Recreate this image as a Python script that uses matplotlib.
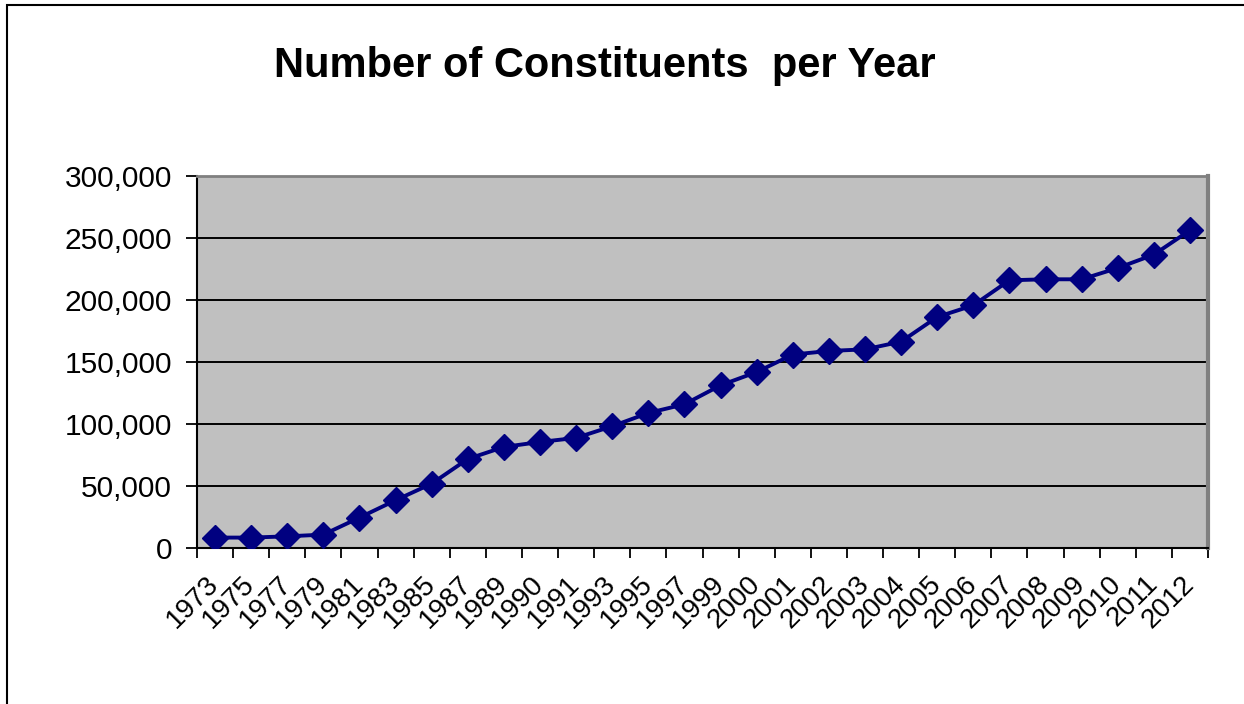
import matplotlib
matplotlib.use("Agg")
import matplotlib.pyplot as plt
from matplotlib.patches import Rectangle
from matplotlib.ticker import FuncFormatter, FixedLocator

plt.rcParams["font.family"] = ["Liberation Sans", "DejaVu Sans"]

years = [
	"1973", "1975", "1977", "1979", "1981", "1983", "1985", "1987", "1989",
	"1990", "1991", "1993", "1995", "1997", "1999", "2000", "2001", "2002",
	"2003", "2004", "2005", "2006", "2007", "2008", "2009", "2010", "2011",
	"2012",
]
constituents = [
	8400, 8400, 9400, 10800, 24500, 38500, 51900, 71800, 81500,
	85500, 88800, 98200, 108900, 115900, 131200, 141900, 156000, 158900,
	160200, 166400, 186300, 195700, 215900, 216700, 216700, 225800, 236600,
	256200,
]
y_ticks = [0, 50000, 100000, 150000, 200000, 250000, 300000]

fig = plt.figure(figsize=(12.44, 7.04), dpi=100)
ax = fig.add_axes([197 / 1244, 1 - 548 / 704, (1208 - 197) / 1244, (548 - 176) / 704])

x = list(range(len(years)))
ax.plot(
	x,
	constituents,
	color="#000080",
	linewidth=2.8,
	marker="D",
	markersize=13,
	zorder=3,
)

ax.set_facecolor("#c0c0c0")
ax.set_xlim(-0.5, len(years) - 0.5)
ax.set_ylim(0, 300000)

ax.set_yticks(y_ticks)
ax.yaxis.set_major_formatter(FuncFormatter(lambda v, _: f"{int(v):,}"))
ax.yaxis.grid(True, color="black", linewidth=1.4)
ax.set_axisbelow(True)

# category labels at centres, tick marks between categories
ax.set_xticks(x)
ax.set_xticklabels(years, rotation=45, ha="right", va="center", rotation_mode="anchor")
ax.tick_params(axis="x", which="major", length=0, pad=23, labelsize=20)
ax.xaxis.set_minor_locator(FixedLocator([i - 0.5 for i in range(len(years) + 1)]))
ax.tick_params(axis="x", which="minor", length=7, width=1.3, direction="out", color="black")
ax.tick_params(axis="y", length=8, width=1.3, direction="out", labelsize=21.5, pad=10)

ax.spines["left"].set_color("black")
ax.spines["left"].set_linewidth(1.5)
ax.spines["bottom"].set_color("black")
ax.spines["bottom"].set_linewidth(1.5)
ax.spines["top"].set_color("#808080")
ax.spines["top"].set_linewidth(2)
ax.spines["right"].set_color("#808080")
ax.spines["right"].set_linewidth(3)

fig.text(
	605 / 1244,
	1 - 66 / 704,
	"Number of Constituents  per Year",
	ha="center",
	va="center",
	fontsize=30,
	fontweight="bold",
)

# outer chart frame
fig.patches.append(
	Rectangle(
		(7 / 1244, -0.05),
		1.2,
		1.05 - 5 / 704,
		transform=fig.transFigure,
		fill=False,
		edgecolor="black",
		linewidth=1.5,
	)
)

fig.savefig("out.png", dpi=100)
